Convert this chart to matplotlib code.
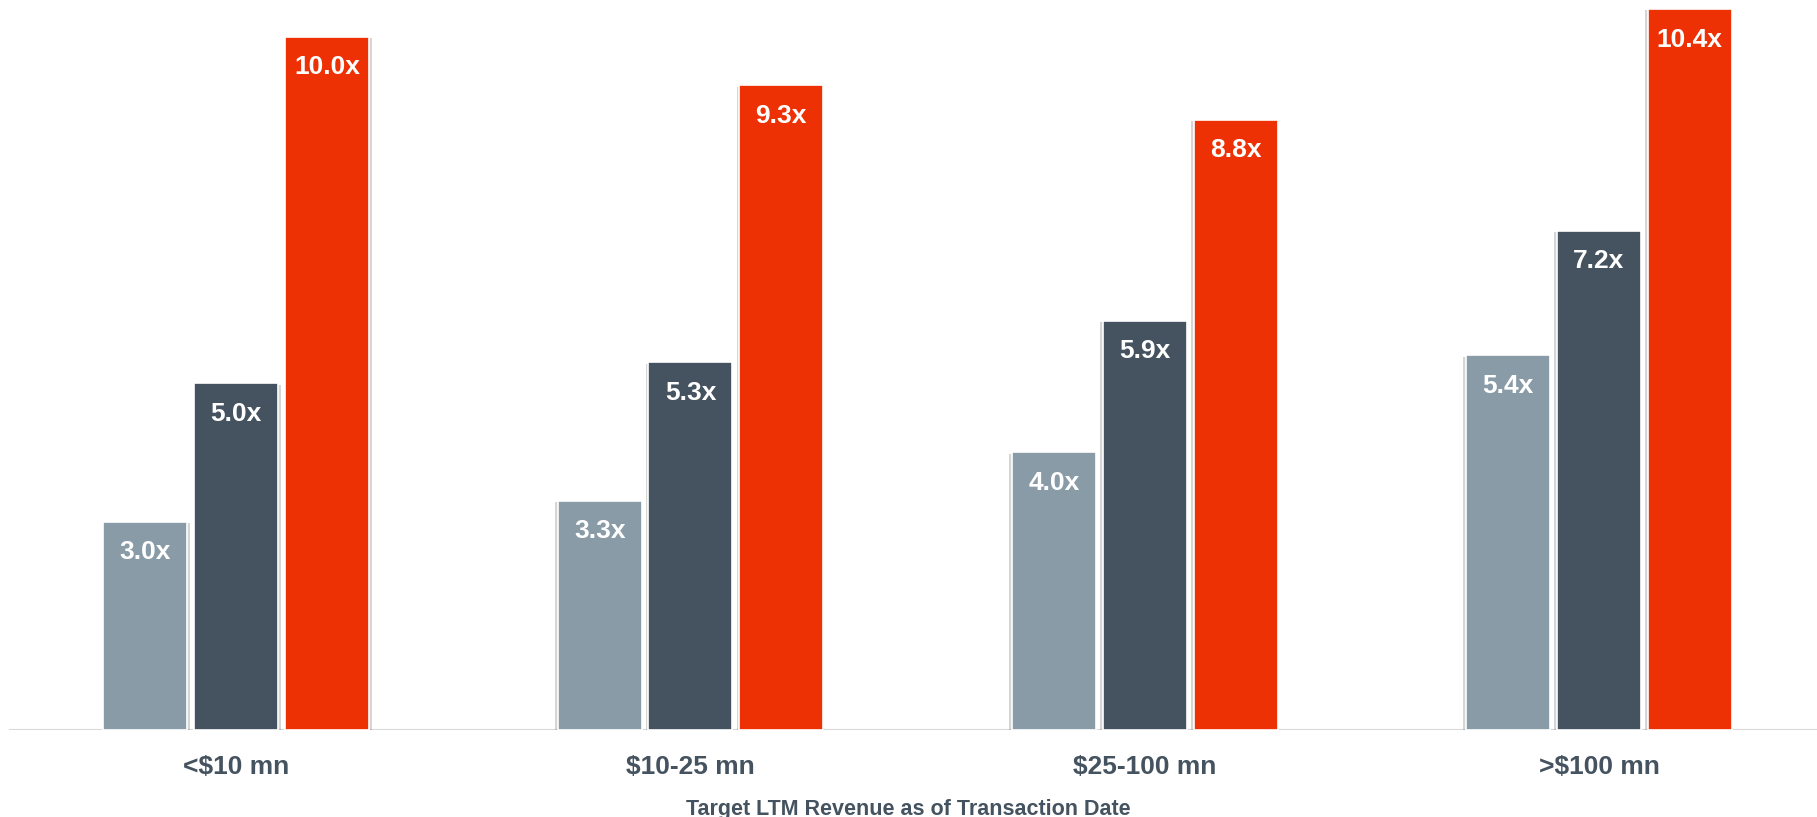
import matplotlib
matplotlib.use("Agg")
from matplotlib import pyplot as plt
import matplotlib.patheffects as pe
import numpy as np

plt.rcParams['font.family'] = ['Liberation Sans', 'DejaVu Sans']

# Revenue buckets and the three multiple series
categories = ["<$10 mn", "$10-25 mn", "$25-100 mn", ">$100 mn"]
series_low = [3.0, 3.3, 4.0, 5.4]
series_mid = [5.0, 5.3, 5.9, 7.2]
series_high = [10.0, 9.3, 8.8, 10.4]
xlabel = "Target LTM Revenue as of Transaction Date"

colors = ["#8a9ba8", "#44535f", "#ee3104"]
text_color = "#44535f"

fig = plt.figure(figsize=(18.17, 8.17), dpi=100)
ax = fig.add_axes([0.005, 0.107, 1.0, 0.893])

x = np.arange(len(categories))
width = 0.185
step = 0.2
all_series = [series_low, series_mid, series_high]

for i, (vals, col) in enumerate(zip(all_series, colors)):
    bars = ax.bar(x + (i - 1) * step, vals, width, color=col,
                  edgecolor="white", linewidth=1.2, zorder=3)
    for j, b in enumerate(bars):
        dx = 2 if j == 0 else -2
        b.set_path_effects([pe.SimplePatchShadow(offset=(dx, -1), alpha=0.22, shadow_rgbFace="#444444"),
                            pe.Normal()])
        ax.annotate(f"{vals[j]:.1f}x", (b.get_x() + b.get_width() / 2, vals[j]),
                    xytext=(0, -22), textcoords="offset points",
                    ha="center", va="center", color="white",
                    fontsize=19, fontweight="bold", zorder=4)

ax.set_xlim(-0.5, 3.5)
ax.set_ylim(0, 10.53)
ax.axhline(0, color="#d9d9d9", linewidth=1.5, zorder=2)

for s in ax.spines.values():
    s.set_visible(False)
ax.set_yticks([])
ax.set_xticks(x)
ax.set_xticklabels(categories, fontsize=19, fontweight="bold", color=text_color)
ax.tick_params(axis="x", length=0, pad=18)

fig.text(0.5, 0.003, xlabel, ha="center", va="baseline", fontsize=15.5,
         fontweight="bold", color=text_color)

fig.savefig("out.png", dpi=100)
